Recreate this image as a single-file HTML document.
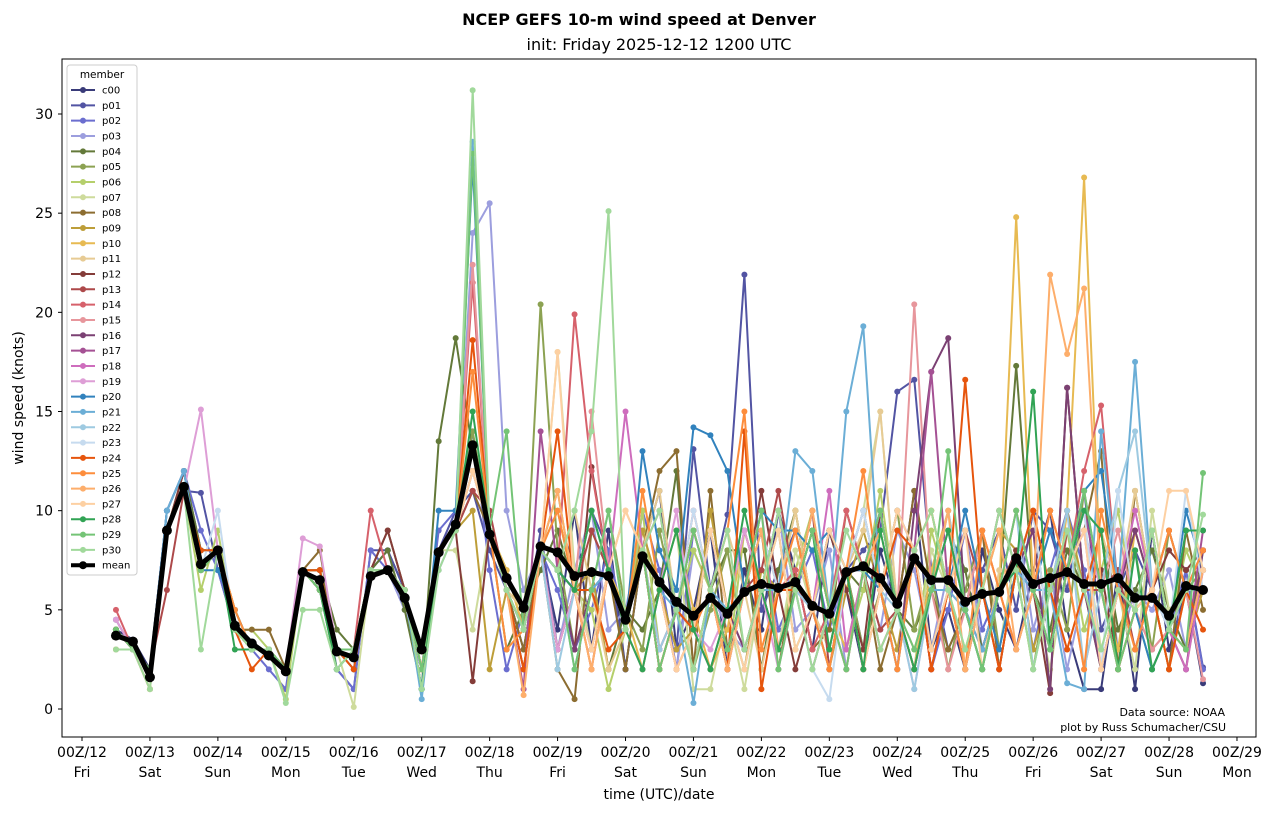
<!DOCTYPE html>
<html><head><meta charset="utf-8"><style>
body{margin:0;background:#fff;font-family:"Liberation Sans","DejaVu Sans",sans-serif}
svg text{font-family:"DejaVu Sans","Liberation Sans",sans-serif}
</style></head><body>
<svg id="chart" width="1273" height="812" viewBox="0 0 1273 812" xmlns="http://www.w3.org/2000/svg">
<rect width="1273" height="812" fill="#fff"/>
<text x="639" y="25" text-anchor="middle" font-size="16" font-weight="bold">NCEP GEFS 10-m wind speed at Denver</text>
<text x="659" y="50" text-anchor="middle" font-size="16">init: Friday 2025-12-12 1200 UTC</text>
<g id="plot"></g>
<rect x="62" y="59" width="1194" height="678" fill="none" stroke="#000" stroke-width="1"/>
<text transform="translate(23,398) rotate(-90)" text-anchor="middle" font-size="14">wind speed (knots)</text>
<text x="659" y="799" text-anchor="middle" font-size="14">time (UTC)/date</text>
<text x="1225" y="716" text-anchor="end" font-size="11">Data source: NOAA</text>
<text x="1226" y="731" text-anchor="end" font-size="11">plot by Russ Schumacher/CSU</text>
<g id="legend"></g>
</svg>
<script>
const members=["c00","p01","p02","p03","p04","p05","p06","p07","p08","p09","p10","p11","p12","p13","p14","p15","p16","p17","p18","p19","p20","p21","p22","p23","p24","p25","p26","p27","p28","p29","p30"];
const colors=["#393b79","#5254a3","#6b6ecf","#9c9ede","#637939","#8ca252","#b5cf6b","#cedb9c","#8c6d31","#bd9e39","#e7ba52","#e7cb94","#843c39","#ad494a","#d6616b","#e7969c","#7b4173","#a55194","#ce6dbd","#de9ed6","#3182bd","#6baed6","#9ecae1","#c6dbef","#e6550d","#fd8d3c","#fdae6b","#fdd0a2","#31a354","#74c476","#a1d99b"];
const startHour=12;
const stepHours=6;
const meanValues=[3.7,3.4,1.6,9,11.2,7.3,8,4.2,3.3,2.7, 1.9,6.9,6.5,2.9,2.6,6.7,7.0,5.6,3.0,7.9, 9.3,13.3,8.8,6.6,5.1,8.2,7.9,6.7,6.9,6.7, 4.5,7.7,6.4,5.4,4.7,5.6,4.8,5.9,6.3,6.1, 6.4,5.2,4.8,6.9,7.2,6.6,5.3,7.6,6.5,6.5, 5.4,5.8,5.9,7.6,6.3,6.6,6.9,6.3,6.3,6.6, 5.6,5.6,4.7,6.2,6.0];
const memberValues=[
"4 3.5 2 10 12 8 8 4 3 3 | 2 7 6 3 2 7 8 6 2 8 | 9 12 9 6 3 8 4 10 3 9 | 2 8 11 3 5 9 2 7 4 10 | 7 3 9 6 2 8 5 11 3 5 | 2 8 5 3 7 10 4 1 1 7 | 1 9 3 6 1.3",
"4.5 3 2 9 11 10.9 7 4 3 3 | 2 7 7 2 1 8 8 6 1 8 | 10 11 8 6 4 9 3 6 10 8 | 2 8 6 3 13.1 6 9.8 21.9 5 7 | 9 5 2 7 8 9 16 16.6 7 3 | 5 7 9 5 10 9 6 11 4 6 | 8 6 2 7 2.1",
"4 3 2 10 12 9 7 4 3 2 | 1 7 6 2 1 8 7 5 2 9 | 10 14 7 2 5 8 6 3 5 8 | 4 10 7 2 9 6 3 6 9 4 | 6 8 4 7 3 6 10 8 2 5 | 9 4 6 8 3 7 10 7 2 6 | 5 9 4 7 2",
"4 3 2 10 12 8 8 4 3 3 | 2 7 6 3 3 7 7 5 2 7 | 9 24 25.5 10 6 8 3 7 10 4 | 5 9 6 2 8 6 4 3 6 10 | 4 5 8 2 7 4 9 7 3 7 | 9 3 6 10 4 7 2 6 9 3 | 6 5 7 3 6",
"3 3 1 9 12 8 8 5 3 3 | 2 7 7 4 3 7 8 5 1 13.5 | 18.7 13 9 3 5 7 9 6 7 2 | 5 4 6 12 2 6 8 8 2 7 | 10 5 3 7 6 10 5 4 6 9 | 7 3 6 17.3 6 4 8 6 9 4 | 6 8 5 3 8",
"4 3 2 9 11 7 8 4 3 3 | 2 7 6 3 3 7 7 6 2 8 | 9 14 9 7 4 20.4 8 3 6 10 | 5 3 9 5 2 5 8 3 6 9 | 3 5 9 7 3 6 10 4 7 2 | 6 9 3 7 2 7 4 11 6 3 | 8 3 9 6 7",
"3 3 1 9 11 6 9 4 4 3 | 0.5 7 6 2 3 7 7 6 2 8 | 9 12 9 6 5 8 10 6 5 1 | 4 10 3 5 8 6 2 9 6 3 | 7 10 5 3 6 11 5 2 9 6 | 3 6 10 7 2 6 9 4 7 10 | 5 2 4 8 6",
"3 3 1 9 11 7 8 4 3 3 | 2 7 6 3 0.1 7 7 6 2 8 | 8 4 9 6 5 8 18 7 3 7 | 4 2 6 9 1 1 5 1 6 3 | 8 5 3 7 10 15 5 2 8 6 | 2 6 3 8 6 2 7 9 3 6 | 2 10 5 6 6",
"4 3 2 9 11 7 8 4 4 4 | 2 7 8 3 3 7 9 6 2 8 | 9 11 9 6 3 8 2 0.5 9 7 | 2 8 12 13 2 11 3 6 9 2 | 7 3 4 10 7 2 5 11 6 3 | 5 9 2 7 10 3 7 9 13 2 | 11 6 2 9 5",
"4 3 2 9 11 7 8 5 3 3 | 2 7 7 3 3 7 7 6 2 8 | 9 10 2 6 5 8 11 6 7 2 | 4 9 6 3 4 10 5 2 7 6 | 10 5 2 6 9 6 3 8 10 6 | 2 6 9 8 3 6 10 6 2 6 | 9 6 4 3 6",
"4 3 2 9 11 7 8 4 3 3 | 2 7 6 3 3 7 7 6 2 8 | 9 12 9 7 4 8 3 6 10 7 | 5 2 6 9 5 2 4 9 6 3 | 6 9 5 3 7 10 5 2 7 10 | 5 2 6 24.8 6 3 10 26.8 6 3 | 9 6 2 6 6",
"3 3 1 9 11 7 8 4 3 3 | 2 7 6 3 3 7 7 6 2 8 | 9 13 9 6 5 8 7 10 6 2 | 4 8 11 5 4 6 9 6 2 6 | 10 5 3 7 9 15 5 2 6 10 | 5 2 7 7 10 6 3 6 9 6 | 11 6 4 2 7",
"4 3 2 9 12 7 8 4 3 3 | 2 7 6 3 3 7 9 6 2 8 | 9 1.4 9 6 2 8 7 3 12.2 7 | 4 8 2 5 9 6 3 6 11 6 | 2 5 9 6 3 10 5 2 6 9 | 5 3 6 8 6 0.8 16.2 6 7 2 | 5 6 8 7 8",
"4 3 2 6 11 7 8 4 3 3 | 2 7 6 3 3 7 7 6 2 8 | 9 11 10 6 4 8 3 6 9 7 | 4 8 2 5 9 6 2 6 7 11 | 6 10 2 7 7 4 5 8 2 6 | 9 6 2 7 6 3 9 6 6 7 | 3 6 9 6 8",
"5 3 2 9 11 7 8 4 3 3 | 2 7 6 3 3 10 7 6 2 8 | 9 21.5 9 6 4 8 7 19.9 12 7 | 4 8 3 5 10 6 2 6 9 6 | 7 3 5 10 7 3 5 8 2 6 | 5 9 6 3 6 10 7 12 15.3 6 | 5 3 4 6 8",
"4 3 2 9 11 7 8 4 3 3 | 2 7 6 3 3 7 7 6 2 8 | 9 22.4 9 6 4 8 7 6 15 7 | 4 8 6 2 4 9 5 3 6 10 | 6 5 2 7 7 3 5 20.4 6 2 | 5 9 6 3 6 10 7 2 6 9 | 5 3 4 6 1.5",
"4 3 2 9 11 7 8 4 3 3 | 2 7 6 3 3 7 7 6 2 8 | 9 12 9 6 4 8 7 3 6 7 | 4 8 2 5 4 9 5 3 6 10 | 6 2 5 7 10 6 2 10 17 18.7 | 5 2 6 7 9 1 16.2 6 2 6 | 9 6 4 2 8",
"4 3 2 9 11 7 8 4 3 3 | 2 7 6 3 3 7 7 6 2 8 | 9 12 9 6 1 14 7 6 3 7 | 4 8 10 5 4 2 5 9 6 3 | 6 9 5 2 7 10 5 8 17 6 | 2 6 10 7 6 3 7 10 6 2 | 5 9 4 3 9",
"4 3 2 9 11 7 8 4 3 3 | 2 7 6 3 3 7 7 6 2 8 | 9 12 9 6 4 8 7 6 2 7 | 15 8 3 5 9 6 2 6 10 3 | 6 5 11 3 7 10 5 2 6 9 | 5 2 6 10 6 3 7 9 2 6 | 10 6 4 2 7",
"4.5 3 2 9 11 15.1 8 4 3 3 | 2 8.6 8.2 3 3 7 7 6 2 8 | 9 12 9 6 4 8 3 6 10 7 | 4 2 6 10 4 3 5 9 6 2 | 6 9 5 2 7 10 5 1 6 9 | 5 2 6 10 6 3 7 9 6 2 | 5 9 4 3 7",
"4 3 2 10 12 7 7 5 3 3 | 2 7 6 3 3 7 7 6 1 10 | 10 27.5 9 6 4 8 7 6 6 7 | 4 13 8 6 14.2 13.8 12 6 10 9 | 9 8 9 7 7 6 2 8 3 6 | 10 6 3 7 6 9 7 11 12 6 | 5 2 4 10 7",
"4 3 2 10 12 7 8 4 3 3 | 2 7 6 3 3 7 7 6 0.5 8 | 9 28.6 9 6 4 8 7 2 6 7 | 4 8 6 5 0.3 6 5 6 6 6 | 13 12 5 15 19.3 6 2 8 6 6 | 5 3 6 7 6 6 1.3 1 14 6 | 17.5 6 4 6 6",
"3 3 1 9 11 7 8 4 3 3 | 2 7 6 3 3 7 7 6 2 8 | 9 12 9 6 4 8 2 6 10 7 | 4 8 3 5 4 9 5 2 6 10 | 6 5 2 7 10 6 5 1 6 10 | 5 2 6 10 2 6 10 2 6 11 | 14 6 4 6 6",
"3 3 1 9 11 7 10 4 3 3 | 2 7 6 3 3 7 7 6 2 8 | 9 12 9 6 4 8 7 2 6 10 | 4 8 2 5 10 6 2 6 9 6 | 6 2 0.5 7 10 6 2 8 6 9 | 5 2 6 7 10 3 7 10 2 11 | 5 6 4 11 6",
"4 3 2 9 11 8 8 4 2 3 | 2 7 7 3 2 7 7 6 2 8 | 9 18.6 9 6 2 8 14 6 6 3 | 4 8 2 5 4 6 2 14 1 6 | 6 9 5 7 2 6 9 8 2 6 | 16.6 6 2 7 10 6 3 6 9 2 | 5 6 2 6 4",
"4 3 2 9 11 7 8 5 3 3 | 2 7 6 3 3 7 7 6 2 8 | 9 17 9 3 4 8 10 6 2 7 | 4 11 6 2 4 6 9 15 3 6 | 9 5 2 7 12 6 2 8 10 6 | 2 9 6 3 6 10 7 2 10 6 | 3 6 9 6 8",
"3 3 1 9 11 7 8 4 3 3 | 2 7 6 3 3 7 7 6 2 8 | 9 12 9 6 0.7 8 11 6 2 7 | 10 8 2 5 9 6 2 6 9 3 | 6 10 5 2 7 9 5 3 6 10 | 2 6 9 3 6 21.9 17.9 21.2 6 2 | 5 9 4 3 7",
"3 3 1 9 11 7 8 4 3 3 | 2 7 6 3 3 7 7 6 2 8 | 9 12 9 6 4 8 18 6 3 7 | 10 8 6 2 4 9 5 2 6 9 | 3 5 9 7 2 6 10 8 3 6 | 9 2 6 10 6 3 7 9 2 6 | 5 6 11 11 7",
"4 3 2 9 11 7 8 3 3 3 | 2 7 6 2 3 7 7 6 1 8 | 9 15 9 6 4 8 7 6 10 7 | 4 2 6 9 4 2 5 10 6 3 | 6 9 3 7 2 9 5 2 6 9 | 5 2 6 7 16 3 7 10 9 2 | 8 2 4 9 9",
"4 3 2 9 11 7 8 4 3 3 | 2 7 6 3 3 7 7 6 2 8 | 9 28 9 14 4 8 7 2 6 10 | 4 8 2 5 9 6 3 6 10 2 | 6 9 5 2 7 10 5 3 6 13 | 5 2 6 10 6 3 7 11 6 2 | 5 9 4 3 11.9",
"3 3 1 9 11 3 8 4 3 3 | 0.3 5 5 2 3 7 7 6 1 7 | 9 31.2 9 6 4 8 7 10 14 25.1 | 4 8 10 5 2 6 9 3 6 10 | 6 2 5 9 7 3 5 8 10 6 | 3 6 10 7 2 6 9 6 3 6 | 5 9 4 6 9.8"
];
const meanLabel="mean";
const yTicks=[0,5,10,15,20,25,30];
const xTickDays=[0,1,2,3,4,5,6,7,8,9,10,11,12,13,14,15,16,17];
const xTickDates=["00Z/12","00Z/13","00Z/14","00Z/15","00Z/16","00Z/17","00Z/18","00Z/19","00Z/20","00Z/21","00Z/22","00Z/23","00Z/24","00Z/25","00Z/26","00Z/27","00Z/28","00Z/29"];
const xTickDows=["Fri","Sat","Sun","Mon","Tue","Wed","Thu","Fri","Sat","Sun","Mon","Tue","Wed","Thu","Fri","Sat","Sun","Mon"];

const NS="http://www.w3.org/2000/svg";
function xScale(hours){return 82+hours/24*67.94;}
function yScale(v){return 709-v*(709-114)/30;}
function mk(tag,attrs,parent){const e=document.createElementNS(NS,tag);for(const k in attrs)e.setAttribute(k,attrs[k]);parent.appendChild(e);return e;}
const plot=document.getElementById('plot');
const svg=document.getElementById('chart');
yTicks.forEach(t=>{
  const y=yScale(t);
  const tk=mk('line',{x1:58,x2:62,y1:y,y2:y,stroke:'#000'},svg);
  
  
  const tx=mk('text',{x:53,y:y+5,'text-anchor':'end','font-size':14},svg);
  
  
  tx.textContent=t;
});
xTickDays.forEach((d,i)=>{
  const x=xScale(d*24);
  const tk=mk('line',{x1:x,x2:x,y1:737,y2:741,stroke:'#000'},svg);
  
  
  const tx=mk('text',{x:x,y:757,'text-anchor':'middle','font-size':14},svg);
  
  
  tx.textContent=xTickDates[i];
  const tw=mk('text',{x:x,y:777,'text-anchor':'middle','font-size':14},svg);
  
  
  tw.textContent=xTickDows[i];
});
function drawSeries(vals,color,name,w,r){
  const g=mk('g',{},plot);
  
  
  const pts=vals.map((v,i)=>xScale(startHour+i*stepHours).toFixed(1)+','+yScale(v).toFixed(1)).join(' ');
  const pl=mk('polyline',{points:pts,fill:'none',stroke:color,'stroke-width':w,'stroke-linejoin':'round'},g);
  
  
  vals.forEach((v,i)=>{
    const c=mk('circle',{cx:xScale(startHour+i*stepHours),cy:yScale(v),r:r,fill:color},g);
    
    
  });
}
memberValues.forEach((s,k)=>{
  const vals=s.replace(/\|/g,' ').trim().split(/\s+/).map(Number);
  drawSeries(vals,colors[k],'series-'+members[k],2,3);
});
drawSeries(meanValues,'#000','series-mean',5,5);
const lg=document.getElementById('legend');
mk('rect',{x:67,y:65,width:70,height:510,rx:3,fill:'#fff','fill-opacity':0.8,stroke:'#ccc'},lg);
const lt=mk('text',{x:102,y:78,'text-anchor':'middle','font-size':10.5},lg);
lt.textContent='member';
const allNames=members.concat([meanLabel]);
const allColors=colors.concat(['#000']);
allNames.forEach((n,i)=>{
  const y=90+i*15.33;
  const e=mk('g',{},lg);
  
  
  const isMean=n===meanLabel;
  mk('line',{x1:71,x2:95,y1:y,y2:y,stroke:allColors[i],'stroke-width':isMean?4:2},e);
  mk('circle',{cx:83,cy:y,r:isMean?4:3,fill:allColors[i]},e);
  const t=mk('text',{x:102,y:y+3.5,'font-size':10},e);
  t.textContent=n;
});
</script>
</body></html>
